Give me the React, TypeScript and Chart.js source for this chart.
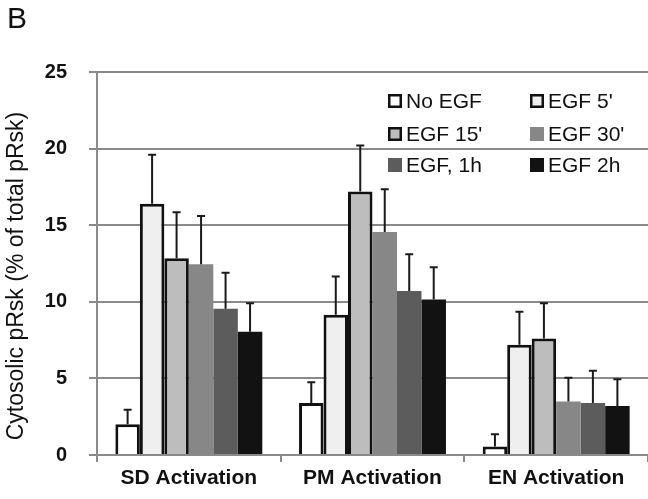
import React, { useEffect, useRef } from "react";
import { Chart, registerables } from "chart.js";

Chart.register(...registerables);

const categories = ["SD Activation", "PM Activation", "EN Activation"];
const seriesNames = ["No EGF", "EGF 5'", "EGF 15'", "EGF 30'", "EGF, 1h", "EGF 2h"];
const noEgf = [2.0, 3.4, 0.55];
const egf5 = [16.4, 9.15, 7.2];
const egf15 = [12.85, 17.2, 7.6];
const egf30 = [12.45, 14.55, 3.5];
const egf1h = [9.55, 10.7, 3.4];
const egf2h = [8.05, 10.15, 3.2];
const noEgfErr = [0.95, 1.35, 0.8];
const egf5Err = [3.2, 2.5, 2.15];
const egf15Err = [3.0, 3.0, 2.3];
const egf30Err = [3.15, 2.8, 1.55];
const egf1hErr = [2.35, 2.4, 2.1];
const egf2hErr = [1.85, 2.1, 1.75];
const yTicks = [0, 5, 10, 15, 20, 25];
const yTitle = "Cytosolic pRsk (% of total pRsk)";

const fills = ["#ffffff", "#efefef", "#bdbdbd", "#878787", "#5c5c5c", "#121212"];
const bordered = [true, true, true, false, false, false];
const FONT = "'Liberation Sans', Arial, sans-serif";

export default function App() {
  const ref = useRef<HTMLCanvasElement | null>(null);
  useEffect(() => {
    if (!ref.current) return;
    const values = [noEgf, egf5, egf15, egf30, egf1h, egf2h];
    const errs = [noEgfErr, egf5Err, egf15Err, egf30Err, egf1hErr, egf2hErr];

    const errorBars = {
      id: "errorBars",
      afterDatasetsDraw(chart: any) {
        const ctx = chart.ctx;
        const ys = chart.scales.y;
        ctx.save();
        ctx.strokeStyle = "#1a1a1a";
        ctx.lineWidth = 2;
        chart.data.datasets.forEach((ds: any, i: number) => {
          const meta = chart.getDatasetMeta(i);
          meta.data.forEach((el: any, j: number) => {
            const v = values[i][j];
            const e = errs[i][j];
            const yTop = ys.getPixelForValue(v + e);
            ctx.beginPath();
            ctx.moveTo(el.x, el.y);
            ctx.lineTo(el.x, yTop);
            ctx.moveTo(el.x - 4, yTop);
            ctx.lineTo(el.x + 4, yTop);
            ctx.stroke();
          });
        });
        ctx.restore();
      },
    };

    const extras = {
      id: "extras",
      afterDraw(chart: any) {
        const ctx = chart.ctx;
        ctx.save();
        // panel letter
        ctx.fillStyle = "#111";
        ctx.font = `30px ${FONT}`;
        ctx.textBaseline = "alphabetic";
        ctx.textAlign = "left";
        ctx.fillText("B", 7, 28);
        // y axis title
        ctx.save();
        ctx.translate(23, 276);
        ctx.rotate(-Math.PI / 2);
        ctx.font = `23px ${FONT}`;
        ctx.textAlign = "center";
        ctx.textBaseline = "alphabetic";
        ctx.fillText(yTitle, 0, 0);
        ctx.restore();
        // legend
        const cols = [388, 530];
        const rows = [101, 134, 165];
        ctx.font = `21px ${FONT}`;
        ctx.textBaseline = "middle";
        ctx.textAlign = "left";
        seriesNames.forEach((name, k) => {
          const x = cols[k % 2];
          const y = rows[Math.floor(k / 2)];
          const s = 14;
          ctx.fillStyle = fills[k];
          ctx.fillRect(x, y - s / 2, s, s);
          if (bordered[k]) {
            ctx.strokeStyle = "#111";
            ctx.lineWidth = 2.5;
            ctx.strokeRect(x + 1.25, y - s / 2 + 1.25, s - 2.5, s - 2.5);
          }
          ctx.fillStyle = "#111";
          ctx.fillText(name, x + 18, y + 1);
        });
        ctx.restore();
      },
    };

    const chart = new Chart(ref.current, {
      type: "bar",
      data: {
        labels: categories,
        datasets: seriesNames.map((name, i) => ({
          label: name,
          data: values[i],
          backgroundColor: fills[i],
          borderColor: "#111111",
          borderWidth: bordered[i] ? 3 : 0,
          barPercentage: 1,
          categoryPercentage: 0.8,
        })),
      },
      options: {
        animation: false,
        responsive: false,
        devicePixelRatio: 1,
        layout: { padding: { top: 72, right: 0, left: 0, bottom: 0 } },
        plugins: { legend: { display: false }, tooltip: { enabled: false } },
        scales: {
          x: {
            grid: {
              offset: true,
              drawOnChartArea: false,
              drawTicks: true,
              tickLength: 7,
              color: "#8a8a8a",
              lineWidth: 2,
            },
            border: { color: "#8a8a8a", width: 2 },
            ticks: {
              color: "#111",
              font: { family: FONT, size: 21, weight: "bold" },
              padding: 4,
            },
            afterFit: (s: any) => {
              s.height = 44;
            },
          },
          y: {
            min: 0,
            max: 25,
            afterBuildTicks: (s: any) => {
              s.ticks = yTicks.map((v) => ({ value: v }));
            },
            grid: { color: "#8a8a8a", lineWidth: 2, tickLength: 8 },
            border: { color: "#8a8a8a", width: 2 },
            ticks: {
              color: "#111",
              font: { family: FONT, size: 20, weight: "bold" },
              padding: 22,
            },
            afterFit: (s: any) => {
              s.width = 97;
            },
          },
        },
      },
      plugins: [errorBars, extras],
    });
    return () => chart.destroy();
  }, []);
  return (
    <div style={{ position: "fixed", left: 0, top: 0, width: 648, height: 499 }}>
      <canvas ref={ref} width={648} height={499} style={{ width: 648, height: 499, display: "block" }} />
    </div>
  );
}
